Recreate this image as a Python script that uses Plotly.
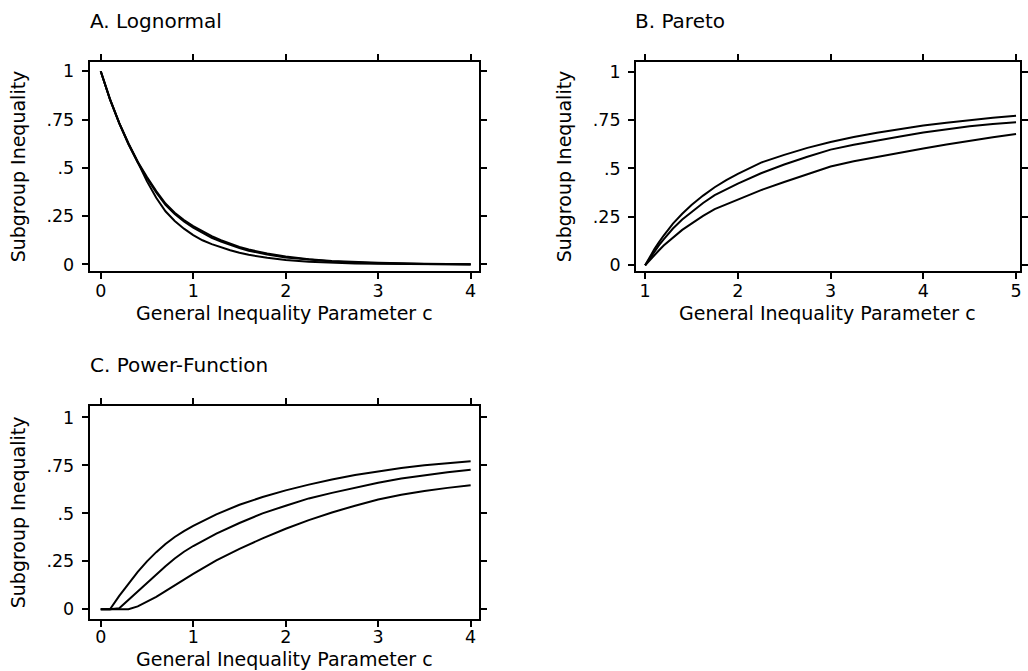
import plotly.graph_objects as go

W, H = 1028, 671

# ---------------- data ----------------
# Panel A: Lognormal
c_logn = [0, 0.1, 0.2, 0.3, 0.4, 0.5, 0.6, 0.7, 0.8, 0.9, 1.0, 1.1, 1.2, 1.3, 1.4,
          1.5, 1.6, 1.8, 2.0, 2.25, 2.5, 2.75, 3.0, 3.5, 4.0]
logn_1 = [1.0, 0.855, 0.732, 0.625, 0.532, 0.452, 0.38, 0.315, 0.268, 0.23, 0.198,
          0.17, 0.146, 0.125, 0.107, 0.091, 0.077, 0.056, 0.041, 0.027, 0.018, 0.012,
          0.008, 0.003, 0.001]
logn_2 = [1.0, 0.854, 0.73, 0.622, 0.528, 0.446, 0.373, 0.308, 0.261, 0.222, 0.19,
          0.162, 0.138, 0.118, 0.1, 0.085, 0.071, 0.051, 0.036, 0.024, 0.015, 0.01,
          0.006, 0.002, 0.001]
logn_3 = [1.0, 0.856, 0.733, 0.626, 0.53, 0.43, 0.345, 0.275, 0.225, 0.185, 0.152,
          0.125, 0.105, 0.088, 0.073, 0.06, 0.05, 0.034, 0.023, 0.014, 0.008, 0.005,
          0.003, 0.001, 0.0]

# Panel B: Pareto
c_par = [1.0, 1.05, 1.1, 1.15, 1.2, 1.3, 1.4, 1.5, 1.625, 1.75, 1.875, 2.0, 2.25, 2.5,
         2.75, 3.0, 3.25, 3.5, 3.75, 4.0, 4.25, 4.5, 4.75, 5.0]
par_1 = [0.0, 0.044, 0.084, 0.12, 0.154, 0.215, 0.266, 0.311, 0.36, 0.403, 0.44, 0.472,
         0.53, 0.57, 0.606, 0.636, 0.662, 0.684, 0.703, 0.721, 0.736, 0.75, 0.762, 0.772]
par_2 = [0.0, 0.037, 0.072, 0.104, 0.134, 0.19, 0.237, 0.275, 0.322, 0.362, 0.394, 0.422,
         0.475, 0.52, 0.56, 0.597, 0.622, 0.645, 0.665, 0.685, 0.703, 0.718, 0.729, 0.738]
par_3 = [0.0, 0.027, 0.053, 0.078, 0.102, 0.145, 0.183, 0.215, 0.255, 0.29, 0.315, 0.338,
         0.388, 0.43, 0.472, 0.51, 0.537, 0.56, 0.582, 0.603, 0.623, 0.643, 0.661, 0.678]

# Panel C: Power-Function
c_pow = [0, 0.1, 0.2, 0.3, 0.4, 0.5, 0.6, 0.7, 0.8, 0.9, 1.0, 1.25, 1.5, 1.75, 2.0,
         2.25, 2.5, 2.75, 3.0, 3.25, 3.5, 3.75, 4.0]
pow_1 = [0.0, 0.0, 0.07, 0.135, 0.195, 0.25, 0.298, 0.34, 0.377, 0.408, 0.435, 0.495,
         0.545, 0.585, 0.62, 0.65, 0.677, 0.70, 0.72, 0.737, 0.751, 0.762, 0.772]
pow_2 = [0.0, 0.0, 0.005, 0.05, 0.095, 0.14, 0.185, 0.225, 0.265, 0.30, 0.33, 0.395,
         0.45, 0.50, 0.54, 0.578, 0.607, 0.635, 0.66, 0.682, 0.70, 0.715, 0.728]
pow_3 = [0.0, 0.0, 0.0, 0.0, 0.015, 0.04, 0.065, 0.095, 0.125, 0.155, 0.185, 0.255,
         0.315, 0.37, 0.42, 0.465, 0.505, 0.54, 0.572, 0.597, 0.617, 0.633, 0.647]

y_ticks = [0, 0.25, 0.5, 0.75, 1]
y_ticktext = ["0", ".25", ".5", ".75", "1"]
x_ticks_logn = [0, 1, 2, 3, 4]
x_ticks_par = [1, 2, 3, 4, 5]
x_ticks_pow = [0, 1, 2, 3, 4]

panel_titles = ["A. Lognormal", "B. Pareto", "C. Power-Function"]
x_title = "General Inequality Parameter c"
y_title = "Subgroup Inequality"

# ---------------- figure ----------------
FONT = "DejaVu Sans"
fig = go.Figure()

series = [
    ("x", "y", c_logn, [logn_1, logn_2, logn_3]),
    ("x2", "y2", c_par, [par_1, par_2, par_3]),
    ("x3", "y3", c_pow, [pow_1, pow_2, pow_3]),
]
for xa, ya, cx, ys in series:
    for yv in ys:
        fig.add_trace(go.Scatter(x=cx, y=yv, xaxis=xa, yaxis=ya, mode="lines",
                                 line=dict(color="black", width=2),
                                 showlegend=False, hoverinfo="skip"))


def xp(px):
    return min(max(px / W, 0.0), 1.0)


def yp(py):
    return 1 - py / H


axis_common = dict(showline=True, linecolor="black", linewidth=2, mirror="ticks",
                   ticks="outside", ticklen=6, tickwidth=2, tickcolor="black",
                   showgrid=False, zeroline=False, fixedrange=True,
                   tickfont=dict(family=FONT, size=17.5, color="black"))


def xaxis(left, right, rng, ticks, anchor, lab_standoff=-3):
    return dict(axis_common, domain=[xp(left), xp(right)], range=rng, tickvals=ticks,
                ticktext=[str(t) for t in ticks], anchor=anchor,
                ticklabelstandoff=lab_standoff)


def yaxis(top, bottom, rng, anchor):
    return dict(axis_common, domain=[yp(bottom), yp(top)], range=rng, tickvals=y_ticks,
                ticktext=y_ticktext, anchor=anchor, ticklabelstandoff=4,
                title=dict(text=y_title, font=dict(family=FONT, size=19, color="black"),
                           standoff=16))


fig.update_layout(
    width=W, height=H,
    margin=dict(l=0, r=0, t=0, b=0),
    paper_bgcolor="white", plot_bgcolor="white",
    xaxis=xaxis(90, 480, [-0.119, 4.086], x_ticks_logn, "y"),
    yaxis=yaxis(62, 273, [-0.036, 1.05], "x"),
    xaxis2=xaxis(638, 1023, [0.903, 5.043], x_ticks_par, "y2"),
    yaxis2=yaxis(62, 273, [-0.031, 1.051], "x2"),
    xaxis3=xaxis(90, 480, [-0.119, 4.086], x_ticks_pow, "y3", lab_standoff=-5),
    yaxis3=yaxis(408, 623, [-0.052, 1.062], "x3"),
)

# panel titles
title_pos = [(88, 21), (635, 21), (88, 367)]
for txt, (tx, ty) in zip(panel_titles, title_pos):
    fig.add_annotation(text=txt, xref="paper", yref="paper", x=xp(tx), y=yp(ty),
                       xanchor="left", yanchor="middle", showarrow=False,
                       font=dict(family=FONT, size=20, color="black"))

# x-axis titles (centred under each panel)
xtitle_pos = [(285, 315), (830, 315), (285, 663)]
for tx, ty in xtitle_pos:
    fig.add_annotation(text=x_title, xref="paper", yref="paper", x=xp(tx), y=yp(ty),
                       xanchor="center", yanchor="middle", showarrow=False,
                       font=dict(family=FONT, size=19, color="black"))

# remove the default 8px body margin so the figure fills the window exactly
fig.write_html("out.html", config={"displayModeBar": False},
               post_script="document.body.style.margin='0';")
